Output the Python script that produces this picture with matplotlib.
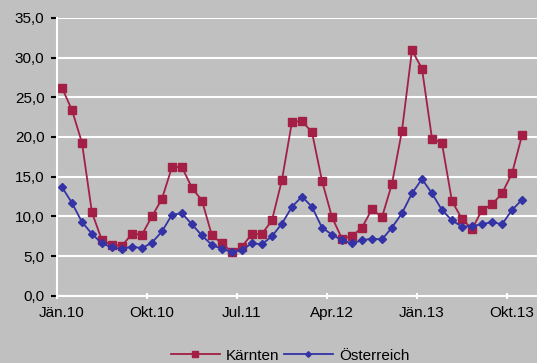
import matplotlib
matplotlib.use("Agg")
import matplotlib.pyplot as plt
import numpy as np

# monthly values Jan 2010 - Nov 2013
kaernten = [26.2, 23.4, 19.3, 10.5, 7.0, 6.4, 6.3, 7.8, 7.7, 10.0, 12.2, 16.2,
            16.2, 13.6, 12.0, 7.6, 6.6, 5.5, 6.2, 7.8, 7.8, 9.5, 14.6, 21.9,
            22.0, 20.6, 14.5, 9.9, 7.2, 7.5, 8.6, 10.9, 9.9, 14.1, 20.8, 30.9,
            28.6, 19.8, 19.2, 11.9, 9.7, 8.4, 10.8, 11.5, 12.9, 15.4, 20.2]
oesterreich = [13.7, 11.7, 9.3, 7.8, 6.6, 6.1, 5.9, 6.2, 6.0, 6.7, 8.1, 10.2,
               10.4, 9.0, 7.6, 6.4, 5.9, 5.5, 5.8, 6.6, 6.5, 7.5, 9.1, 11.2,
               12.5, 11.2, 8.6, 7.7, 7.0, 6.6, 7.0, 7.2, 7.1, 8.6, 10.4, 12.9,
               14.7, 12.9, 10.8, 9.5, 8.7, 8.8, 9.0, 9.3, 9.0, 10.8, 12.1]
tick_labels = ["Jän.10", "Okt.10", "Jul.11", "Apr.12", "Jän.13", "Okt.13"]
n_months = 48  # axis runs through Dez.13

plt.rcParams['font.family'] = ['Liberation Sans', 'DejaVu Sans']

bg = '#c0c0c0'
fig = plt.figure(figsize=(5.37, 3.63), dpi=100, facecolor=bg)
ax = fig.add_axes([0.106, 0.185, 0.894, 0.766])
ax.set_facecolor(bg)

x = np.arange(len(kaernten))
ax.plot(x, kaernten, color='#a31f45', lw=1.3, marker='s', ms=5.8,
        label='Kärnten', clip_on=False)
ax.plot(x, oesterreich, color='#3333a6', lw=1.3, marker='D', ms=3.6,
        label='Österreich', clip_on=False)

ax.set_xlim(-0.5, n_months - 0.5)
ax.set_ylim(0, 35)
ax.set_yticks(np.arange(0, 36, 5))
ax.set_yticklabels([f"{v:.1f}".replace('.', ',') for v in np.arange(0, 36, 5)])
ax.yaxis.grid(True, color='white', lw=1.5)
ax.set_axisbelow(True)

ax.set_xticks(np.arange(0, n_months, 9)[:len(tick_labels)])
ax.set_xticklabels(tick_labels)
ax.set_xticks(np.arange(0, n_months, 9)[:len(tick_labels)] - 0.5, minor=True)
ax.tick_params(axis='x', which='major', length=0, pad=7)
ax.tick_params(axis='x', which='minor', length=5, color='white', width=1.5,
               direction='inout')
ax.tick_params(axis='y', length=4, color='white', width=1.5, pad=5)
ax.tick_params(labelsize=11, colors='black')

for s in ['top', 'right']:
    ax.spines[s].set_visible(False)
for s in ['left', 'bottom']:
    ax.spines[s].set_color('white')
    ax.spines[s].set_linewidth(1.5)

fig.legend(loc='center', bbox_to_anchor=(0.54, 0.02), ncol=2, frameon=False,
           fontsize=11, handlelength=3.2, columnspacing=0.3, handletextpad=0.4,
           markerscale=0.8)

fig.savefig('out.png', dpi=100, facecolor=bg)
